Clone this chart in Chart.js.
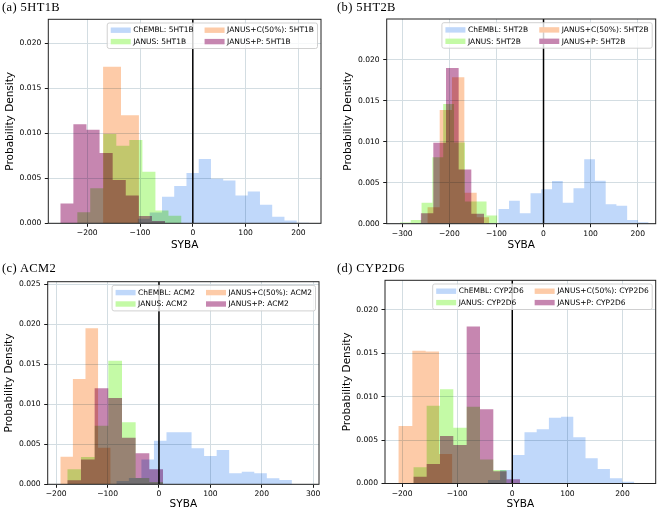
<!DOCTYPE html>
<html>
<head>
<meta charset="utf-8">
<script src="https://cdn.jsdelivr.net/npm/chart.js@4/dist/chart.umd.min.js"></script>
<style>
  html, body { margin: 0; padding: 0; background: #fff; }
  #fig { position: relative; width: 661px; height: 510px; overflow: hidden; }
  .panel { position: absolute; }
  .panel canvas { position: absolute; left: 0; top: 0; }
  .ptitle { position: absolute; font-family: "Liberation Serif", serif; font-size: 12.5px; letter-spacing: 0.4px; line-height: 14px; white-space: nowrap; color: #000; }
</style>
</head>
<body>
<div id="fig">
  <div class="panel" style="left:0;top:0"><canvas id="c-a" width="330" height="255"></canvas></div>
  <div class="panel" style="left:330px;top:0"><canvas id="c-b" width="331" height="255"></canvas></div>
  <div class="panel" style="left:0;top:255px"><canvas id="c-c" width="330" height="255"></canvas></div>
  <div class="panel" style="left:330px;top:255px"><canvas id="c-d" width="331" height="255"></canvas></div>
  <div class="ptitle" style="left:2px;top:0">(a) 5HT1B</div>
  <div class="ptitle" style="left:337px;top:0">(b) 5HT2B</div>
  <div class="ptitle" style="left:2px;top:261px">(c) ACM2</div>
  <div class="ptitle" style="left:337px;top:261px">(d) CYP2D6</div>
</div>
<script>
// series, in legend order (column-major, 2 columns)
const seriesNames = ['ChEMBL', 'JANUS', 'JANUS+C(50%)', 'JANUS+P'];
const targets = ['5HT1B', '5HT2B', 'ACM2', 'CYP2D6'];

// histogram bin edges and densities
// (a) 5HT1B
const edges5HT1B_chembl = [-104.8, -81.6, -58.4, -35.2, -12.0, 11.2, 34.4, 57.6, 80.8, 104.0, 127.2, 150.4, 173.6, 196.8, 220.0];
const dens5HT1B_chembl = [0.0005, 0.0012, 0.00296, 0.00415, 0.00558, 0.00714, 0.00495, 0.00476, 0.00309, 0.00353, 0.00205, 0.00074, 0.0003, 0.00007];
const edges5HT1B_janus = [-219, -194.3, -169.6, -144.9, -120.2, -95.5, -70.8, -46.1, -21.4];
const dens5HT1B_janus = [0.00122, 0.00389, 0.00993, 0.00863, 0.00926, 0.00574, 0.00141, 0.00085];
const edges5HT1B_janusC = [-170, -136, -102];
const dens5HT1B_janusC = [0.0174, 0.0120];
const edges5HT1B_janusP = [-251, -226.2, -201.4, -176.6, -151.8, -127, -102.2, -77.4, -52.6];
const dens5HT1B_janusP = [0.0022, 0.0110, 0.0104, 0.0078, 0.0048, 0.0031, 0.0008, 0.00026];

// (b) 5HT2B
const edges5HT2B_chembl = [-96, -73.2, -50.4, -27.6, -4.8, 18, 40.8, 63.6, 86.4, 109.2, 132, 154.8, 177.6, 200.4, 223.2];
const dens5HT2B_chembl = [0.00179, 0.0028, 0.00127, 0.00371, 0.0042, 0.00521, 0.00256, 0.00432, 0.00785, 0.00524, 0.00236, 0.0022, 0.00045, 0.00017];
const edges5HT2B_janus = [-305, -282, -259, -236, -213, -190, -167, -144, -121, -98];
const dens5HT2B_janus = [0.00016, 0.00045, 0.00256, 0.0081, 0.0146, 0.0099, 0.0027, 0.0027, 0.001];
const edges5HT2B_janusC = [-246.7, -220.5, -194.3, -168.1, -141.9, -115.7];
const dens5HT2B_janusC = [0.0020, 0.01386, 0.01785, 0.00378, 0.0008];
const edges5HT2B_janusP = [-260.9, -234, -207.1, -180.2, -153.3, -126.4];
const dens5HT2B_janusP = [0.00126, 0.00988, 0.0190, 0.0066, 0.0012];

// (c) ACM2
const edgesACM2_chembl = [-83, -58.6, -34.2, -9.8, 14.6, 39, 63.4, 87.8, 112.2, 136.6, 161, 185.4, 209.8, 234.2, 258.6];
const densACM2_chembl = [0.0004, 0.0008, 0.0031, 0.00545, 0.0065, 0.0065, 0.0045, 0.00354, 0.00429, 0.00137, 0.00158, 0.00137, 0.00075, 0.00054];
const edgesACM2_janus = [-178.4, -151.8, -125.2, -98.6, -72, -45.4, -18.8, 7.8];
const densACM2_janus = [0.00187, 0.0034, 0.00733, 0.01545, 0.00775, 0.0008, 0.0003];
const edgesACM2_janusC = [-192, -167.5, -143, -118.5, -94];
const densACM2_janusC = [0.00345, 0.01316, 0.0195, 0.00458];
const edgesACM2_janusP = [-178.4, -151.8, -125.2, -98.6, -72, -45.4, -18.8, 7.8];
const densACM2_janusP = [0.0005, 0.0031, 0.012, 0.0108, 0.00583, 0.00387, 0.00188];

// (d) CYP2D6
const edgesCYP2D6_chembl = [-44.3, -22.15, 0, 22.15, 44.3, 66.45, 88.6, 110.75, 132.9, 155.05, 177.2, 199.35, 221.5];
const densCYP2D6_chembl = [0.0004, 0.00156, 0.00328, 0.0059, 0.00624, 0.00758, 0.0077, 0.00532, 0.0029, 0.00167, 0.0006, 0.0002];
const edgesCYP2D6_janus = [-179.6, -155.4, -131.2, -107, -82.8, -58.6, -34.4, -10.2];
const densCYP2D6_janus = [0.00186, 0.00896, 0.01084, 0.00643, 0.00885, 0.00277, 0.00155];
const edgesCYP2D6_janusC = [-206.8, -181.4, -157.2, -133, -108.8];
const densCYP2D6_janusC = [0.00661, 0.0153, 0.0152, 0.0034];
const edgesCYP2D6_janusP = [-179.6, -155.4, -131.2, -107, -82.8, -58.6, -34.4, -10.2, 14];
const densCYP2D6_janusP = [0.00079, 0.00225, 0.00547, 0.00443, 0.01807, 0.00855, 0.0014, 0.00048];

// axis ticks
const xTicks5HT1B = [-200, -100, 0, 100, 200];
const xTicks5HT2B = [-300, -200, -100, 0, 100, 200];
const xTicksACM2 = [-200, -100, 0, 100, 200, 300];
const xTicksCYP2D6 = [-200, -100, 0, 100, 200];
const yTicks5HT1B = [0, 0.005, 0.010, 0.015, 0.020];
const yTicks5HT2B = [0, 0.005, 0.010, 0.015, 0.020];
const yTicksACM2 = [0, 0.005, 0.010, 0.015, 0.020, 0.025];
const yTicksCYP2D6 = [0, 0.005, 0.010, 0.015, 0.020];

// light fills, overlaps are multiplied (that is how the overlaps darken in the original)
const seriesColors = ['rgb(192,216,250)', 'rgb(196,250,166)', 'rgb(253,203,168)', 'rgb(198,134,176)'];
const FONT = 'DejaVu Sans';

function histPoints(edges, dens) {
  return edges.map((e, i) => ({ x: e, y: i < dens.length ? dens[i] : 0 }));
}

const fmtX = v => (v < 0 ? '\u2212' + Math.abs(v) : String(v));

const overlay = {
  id: 'overlay',
  beforeDatasetsDraw(chart) {
    chart.ctx.globalCompositeOperation = 'multiply';
  },
  afterDatasetsDraw(chart) {
    const { ctx, chartArea: a, scales } = chart;
    ctx.globalCompositeOperation = 'source-over';
    const x0 = scales.x.getPixelForValue(0);
    ctx.save();
    ctx.strokeStyle = '#000';
    ctx.lineWidth = 1.5;
    ctx.beginPath();
    ctx.moveTo(x0, a.top);
    ctx.lineTo(x0, a.bottom);
    ctx.stroke();
    ctx.restore();
  },
  afterDraw(chart) {
    const { ctx, chartArea: a } = chart;
    const target = chart.options.plugins.overlay.target;
    ctx.save();
    ctx.strokeStyle = '#222';
    ctx.lineWidth = 1;
    ctx.strokeRect(a.left, a.top, a.right - a.left, a.bottom - a.top);

    // legend, two columns, upper right
    ctx.font = '7.5px "' + FONT + '"';
    const labels = seriesNames.map(n => n + ': ' + target);
    const col1 = Math.max(ctx.measureText(labels[0]).width, ctx.measureText(labels[1]).width);
    const col2 = Math.max(ctx.measureText(labels[2]).width, ctx.measureText(labels[3]).width);
    const patchW = 20, gap = 2.5, pad = 3.5, colSpace = 11;
    const boxW = pad + patchW + gap + col1 + colSpace + patchW + gap + col2 + pad;
    const boxH = 25.5;
    const bx = a.right - 3.5 - boxW, by = a.top + 3.7;
    ctx.fillStyle = 'rgba(255,255,255,0.8)';
    ctx.strokeStyle = 'rgba(204,204,204,0.9)';
    ctx.lineWidth = 1;
    ctx.beginPath();
    ctx.roundRect(bx, by, boxW, boxH, 2);
    ctx.fill();
    ctx.stroke();
    const colX = [bx + pad, bx + pad + patchW + gap + col1 + colSpace];
    const rowY = [by + 7.2, by + 18.6];
    ctx.textBaseline = 'middle';
    ctx.textAlign = 'left';
    labels.forEach((lab, i) => {
      const cx = colX[Math.floor(i / 2)], cy = rowY[i % 2];
      ctx.fillStyle = seriesColors[i];
      ctx.fillRect(cx, cy - 2.7, patchW, 5.4);
      ctx.fillStyle = '#000';
      ctx.fillText(lab, cx + patchW + gap, cy + 0.3);
    });
    ctx.restore();
  }
};

function makePanel(p) {
  const datasets = seriesNames.map((name, k) => ({
    label: name,
    data: histPoints(p.edges[k], p.dens[k]),
    stepped: true,
    fill: 'origin',
    backgroundColor: seriesColors[k],
    borderWidth: 0,
    borderColor: 'rgba(0,0,0,0)',
    pointRadius: 0
  }));
  const canvas = document.getElementById(p.id);
  const W = canvas.width, H = canvas.height;
  new Chart(canvas, {
    type: 'line',
    data: { datasets },
    plugins: [overlay],
    options: {
      responsive: false,
      animation: false,
      events: [],
      layout: { padding: { left: 0, top: p.area.t, right: W - p.area.r, bottom: 0 } },
      plugins: {
        legend: { display: false },
        tooltip: { enabled: false },
        overlay: { target: p.target }
      },
      scales: {
        x: {
          type: 'linear',
          min: p.xRange[0],
          max: p.xRange[1],
          afterBuildTicks: s => { s.ticks = p.xTicks.map(v => ({ value: v })); },
          afterFit: s => { s.height = H - p.area.b; },
          grid: { color: '#d3dde2', lineWidth: 1, tickColor: '#000', tickLength: 3.5, tickWidth: 0.9 },
          border: { display: false },
          ticks: { autoSkip: false, maxRotation: 0, padding: 2, color: '#000', font: { family: FONT, size: 7.6 }, callback: v => fmtX(v) },
          title: { display: true, text: 'SYBA', color: '#000', font: { family: FONT, size: 10.5, lineHeight: 1 }, padding: { top: 0, bottom: p.xTitlePad } }
        },
        y: {
          type: 'linear',
          min: p.yRange[0],
          max: p.yRange[1],
          afterBuildTicks: s => { s.ticks = p.yTicks.map(v => ({ value: v })); },
          afterFit: s => { s.width = p.area.l; },
          grid: { color: '#d3dde2', lineWidth: 1, tickColor: '#000', tickLength: 3.5, tickWidth: 0.9 },
          border: { display: false },
          ticks: { autoSkip: false, padding: 3.5, color: '#000', font: { family: FONT, size: 7.6 }, callback: v => v.toFixed(3) },
          title: { display: true, text: 'Probability Density', color: '#000', font: { family: FONT, size: 10.5, lineHeight: 1 }, padding: { top: p.yTitlePad, bottom: 0 } }
        }
      }
    }
  });
}

makePanel({
  id: 'c-a', target: targets[0],
  area: { l: 48.3, r: 321, t: 19.3, b: 223.3 },
  xRange: [-273.7, 242.8], yRange: [0, 0.02267],
  xTicks: xTicks5HT1B, yTicks: yTicks5HT1B, yTitlePad: 4.75, xTitlePad: 4.75,
  edges: [edges5HT1B_chembl, edges5HT1B_janus, edges5HT1B_janusC, edges5HT1B_janusP],
  dens: [dens5HT1B_chembl, dens5HT1B_janus, dens5HT1B_janusC, dens5HT1B_janusP]
});
makePanel({
  id: 'c-b', target: targets[1],
  area: { l: 56.7, r: 325.7, t: 19, b: 223.7 },
  xRange: [-333, 238.2], yRange: [0, 0.02496],
  xTicks: xTicks5HT2B, yTicks: yTicks5HT2B, yTitlePad: 13, xTitlePad: 4.75,
  edges: [edges5HT2B_chembl, edges5HT2B_janus, edges5HT2B_janusC, edges5HT2B_janusP],
  dens: [dens5HT2B_chembl, dens5HT2B_janus, dens5HT2B_janusC, dens5HT2B_janusP]
});
makePanel({
  id: 'c-c', target: targets[2],
  area: { l: 47.7, r: 319, t: 26.7, b: 229.3 },
  xRange: [-216.5, 311.3], yRange: [0, 0.02533],
  xTicks: xTicksACM2, yTicks: yTicksACM2, yTitlePad: 4.5, xTitlePad: 0.5,
  edges: [edgesACM2_chembl, edgesACM2_janus, edgesACM2_janusC, edgesACM2_janusP],
  dens: [densACM2_chembl, densACM2_janus, densACM2_janusC, densACM2_janusP]
});
makePanel({
  id: 'c-d', target: targets[3],
  area: { l: 55, r: 325.7, t: 25.3, b: 228.5 },
  xRange: [-231, 260.3], yRange: [0, 0.0234],
  xTicks: xTicksCYP2D6, yTicks: yTicksCYP2D6, yTitlePad: 12, xTitlePad: 0.5,
  edges: [edgesCYP2D6_chembl, edgesCYP2D6_janus, edgesCYP2D6_janusC, edgesCYP2D6_janusP],
  dens: [densCYP2D6_chembl, densCYP2D6_janus, densCYP2D6_janusC, densCYP2D6_janusP]
});
</script>
</body>
</html>
